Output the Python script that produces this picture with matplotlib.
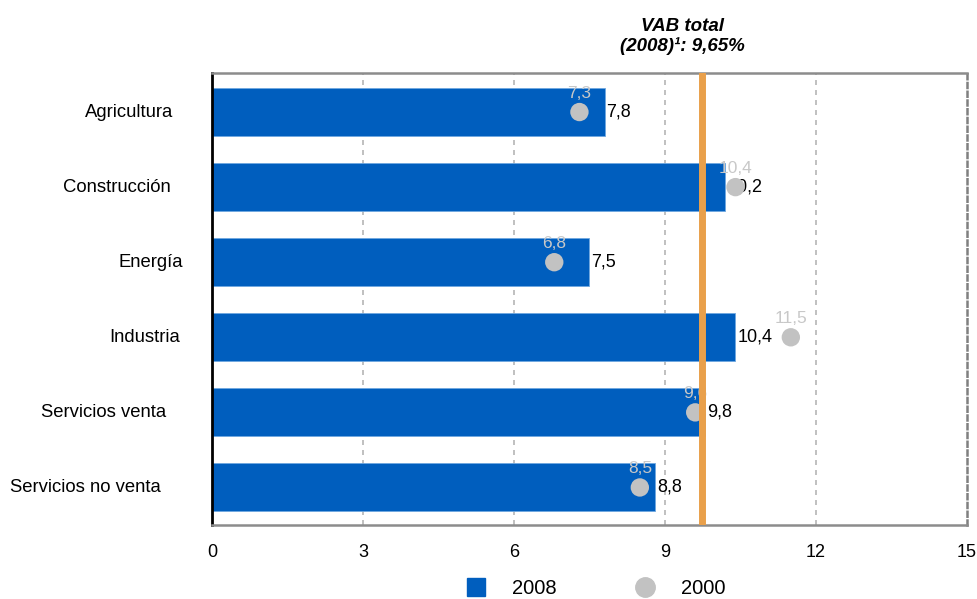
import numpy as np
import matplotlib
matplotlib.use("Agg")
import matplotlib.pyplot as plt
from matplotlib.lines import Line2D

plt.rcParams["font.family"] = ["Liberation Sans", "DejaVu Sans"]

# --- DATA ---
sectores = ["Agricultura", "Construcción", "Energía", "Industria",
            "Servicios venta", "Servicios no venta"]
v2008 = [7.8, 10.2, 7.5, 10.4, 9.8, 8.8]
v2000 = [7.3, 10.4, 6.8, 11.5, 9.6, 8.5]
vab_label = "VAB total\n(2008)\u00b9: 9,65%"
vab_line = 9.73   # where the orange line sits in the picture
xticks = [0, 3, 6, 9, 12, 15]

# gap (points) between category label and axis, as in the source
label_gap = [28, 30, 21, 23, 33, 37]

blue = "#005EBE"
grey_dot = "#C2C2C2"
orange = "#E9A04B"

def fmt(v):
    return f"{v:.1f}".replace(".", ",")

fig = plt.figure(figsize=(9.78, 5.99), dpi=100)
ax = fig.add_axes([212 / 978, 1 - 525 / 599, (967 - 212) / 978, (525 - 73) / 599])

y = np.arange(len(sectores))
ax.barh(y, v2008, height=0.64, color=blue, edgecolor="#6FA8E0", linewidth=0.6, zorder=2)

for yi, v in zip(y, v2008):
    ax.text(v + 0.04, yi, fmt(v), ha="left", va="center", fontsize=13,
            color="black", zorder=3)

ax.scatter(v2000, y, s=175, marker="o", color=grey_dot, edgecolors="none", zorder=4)
for yi, v in zip(y, v2000):
    ax.text(v, yi - 0.15, fmt(v), ha="center", va="bottom", fontsize=12.5,
            color="#C8C8C8", zorder=5)

ax.axvline(vab_line, color=orange, linewidth=5, zorder=6)
ax.text(9.34, 1.04, vab_label,
        transform=ax.get_xaxis_transform(), ha="center", va="bottom",
        fontsize=13.5, fontweight="bold", fontstyle="italic", linespacing=1.15)

ax.set_xlim(0, 15)
ax.set_ylim(5.5, -0.52)
ax.set_xticks(xticks)
ax.set_xticklabels([str(t) for t in xticks], fontsize=13)
ax.set_yticks(y)
ax.set_yticklabels([])
ax.tick_params(axis="both", length=0)
ax.tick_params(axis="x", pad=14)

# category labels, slightly uneven like the source
for yi, name, gap in zip(y, sectores, label_gap):
    ax.annotate(name, xy=(0, yi), xycoords=("axes fraction", "data"),
                xytext=(-gap, 0), textcoords="offset points",
                ha="right", va="center", fontsize=13.3, annotation_clip=False)

for t in xticks[1:-1]:
    ax.axvline(t, color="#B5B5B5", linestyle=(0, (3, 3)), linewidth=1.2, zorder=1)

ax.spines["left"].set_color("black")
ax.spines["left"].set_linewidth(2)
ax.spines["top"].set_color("#8C8C8C")
ax.spines["top"].set_linewidth(1.8)
ax.spines["bottom"].set_color("#8C8C8C")
ax.spines["bottom"].set_linewidth(1.8)
ax.spines["right"].set_color("#808080")
ax.spines["right"].set_linewidth(1.8)
ax.spines["right"].set_linestyle((0, (2, 1.5)))

handles = [
    Line2D([], [], marker="s", linestyle="none", markersize=13, color=blue),
    Line2D([], [], marker="o", linestyle="none", markersize=14, color=grey_dot),
]
fig.legend(handles, ["2008", "2000"], loc="center", bbox_to_anchor=(0.604, 0.018),
           ncol=2, frameon=False, fontsize=14.5, columnspacing=3.4, handletextpad=0.8)

fig.savefig("out.png", dpi=100)
